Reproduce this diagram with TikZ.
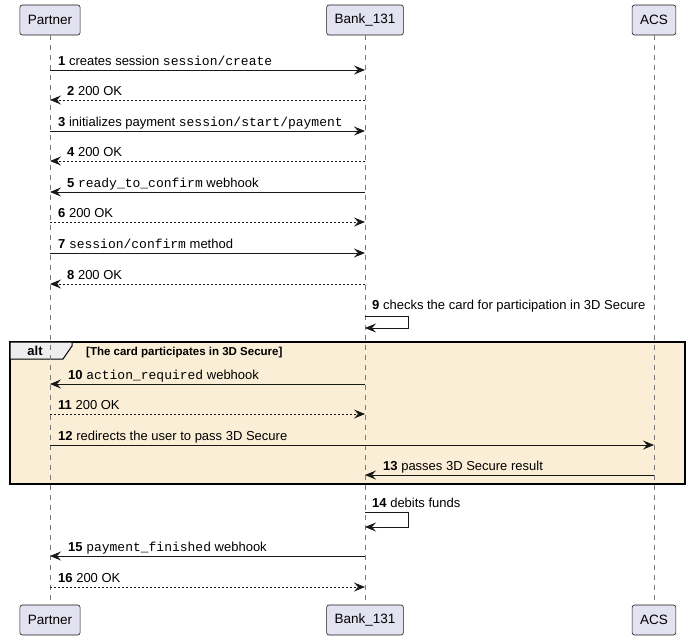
\documentclass[tikz,border=0pt]{standalone}
\usepackage{fontspec}
\setmainfont{Liberation Sans}
\setmonofont{Liberation Mono}
\usetikzlibrary{arrows.meta}
\definecolor{partfill}{HTML}{E2E2F0}
\definecolor{linecol}{HTML}{181818}
\definecolor{altfill}{HTML}{FAEED6}
\definecolor{tabfill}{HTML}{EEEEEE}
\definecolor{lifecol}{HTML}{7A7A7A}
\newcommand{\cd}[1]{{\ttfamily #1}}
\begin{document}
\begin{tikzpicture}[x=1pt,y=-1pt,
  font=\fontsize{13}{15}\selectfont,
  partbox/.style={draw=linecol,fill=partfill,rounded corners=2.5pt,line width=0.6pt,minimum height=30pt,inner xsep=8pt,anchor=center,font=\fontsize{13.5}{15}\selectfont},
  lifeline/.style={draw=lifecol,dash pattern=on 5pt off 5pt,line width=0.6pt},
  tip/.style={-{Stealth[length=11pt,width=9pt,inset=4pt]}},
  sync/.style={draw=linecol,line width=0.9pt,tip},
  reply/.style={draw=linecol,line width=0.9pt,tip,dash pattern=on 2pt off 2pt},
  lbl/.style={anchor=base west,inner sep=0pt}
]
\useasboundingbox (0,0) rectangle (690,640);
% participants
\node[partbox] (P) at (50,20) {Partner};
\node[partbox] (B) at (365,20) {Bank\_131};
\node[partbox] (A) at (654,20) {ACS};
\node[partbox] (Pb) at (50,620) {Partner};
\node[partbox] (Bb) at (365,620) {Bank\_131};
\node[partbox] (Ab) at (654,620) {ACS};
% alt box
\draw[fill=altfill,draw=black,line width=1.4pt] (10,342) rectangle (685,484);
\draw[fill=tabfill,draw=black,line width=1pt] (10,342) -- (72,342) -- (72,346) -- (63,359) -- (10,359) -- cycle;
\node[anchor=base,inner sep=0pt,font=\fontsize{13}{15}\selectfont\bfseries] (altlbl) at (35,355) {alt};
\node[anchor=base west,inner sep=0pt,font=\fontsize{11.5}{13}\selectfont\bfseries] (guard) at (86,355) {[The card participates in 3D Secure]};
% lifelines
\draw[lifeline] (P.south) -- (Pb.north);
\draw[lifeline] (B.south) -- (Bb.north);
\draw[lifeline] (A.south) -- (Ab.north);
% coordinates on lifelines
\foreach \n/\y in {1/70,2/100,3/131,4/161,5/192,6/222,7/253,8/284,10/384,11/414,12/445,15/556,16/587}{
  \coordinate (p\n) at (50,\y);
  \coordinate (b\n) at (365,\y);
}
\coordinate (a12) at (654,445);
\coordinate (a13) at (654,475);
\coordinate (b13) at (365,475);
\coordinate (s9a) at (365,316);
\coordinate (s9b) at (408,316);
\coordinate (s9c) at (408,328);
\coordinate (s9d) at (365,328);
\coordinate (s14a) at (365,512);
\coordinate (s14b) at (408,512);
\coordinate (s14c) at (408,527);
\coordinate (s14d) at (365,527);
% messages
\draw[sync] (p1) -- (b1);
\node[lbl] (m1) at (58,65) {\textbf{1} creates session \cd{session/create}};
\draw[reply] (b2) -- (p2);
\node[lbl] (m2) at (67,95) {\textbf{2} 200 OK};
\draw[sync] (p3) -- (b3);
\node[lbl] (m3) at (58,126) {\textbf{3} initializes payment \cd{session/start/payment}};
\draw[reply] (b4) -- (p4);
\node[lbl] (m4) at (67,156) {\textbf{4} 200 OK};
\draw[sync] (b5) -- (p5);
\node[lbl] (m5) at (67,187) {\textbf{5} \cd{ready\_to\_confirm} webhook};
\draw[reply] (p6) -- (b6);
\node[lbl] (m6) at (58,217) {\textbf{6} 200 OK};
\draw[sync] (p7) -- (b7);
\node[lbl] (m7) at (58,248) {\textbf{7} \cd{session/confirm} method};
\draw[reply] (b8) -- (p8);
\node[lbl] (m8) at (67,279) {\textbf{8} 200 OK};
\draw[draw=linecol,line width=0.9pt,tip] (s9a) -- (s9b) -- (s9c) -- (s9d);
\node[lbl] (m9) at (372,309) {\textbf{9} checks the card for participation in 3D Secure};
\draw[sync] (b10) -- (p10);
\node[lbl] (m10) at (68,379) {\textbf{10} \cd{action\_required} webhook};
\draw[reply] (p11) -- (b11);
\node[lbl] (m11) at (58,409) {\textbf{11} 200 OK};
\draw[sync] (p12) -- (a12);
\node[lbl] (m12) at (58,440) {\textbf{12} redirects the user to pass 3D Secure};
\draw[sync] (a13) -- (b13);
\node[lbl] (m13) at (383,470) {\textbf{13} passes 3D Secure result};
\draw[draw=linecol,line width=0.9pt,tip] (s14a) -- (s14b) -- (s14c) -- (s14d);
\node[lbl] (m14) at (372,507) {\textbf{14} debits funds};
\draw[sync] (b15) -- (p15);
\node[lbl] (m15) at (68,551) {\textbf{15} \cd{payment\_finished} webhook};
\draw[reply] (p16) -- (b16);
\node[lbl] (m16) at (58,582) {\textbf{16} 200 OK};
\end{tikzpicture}
\end{document}
